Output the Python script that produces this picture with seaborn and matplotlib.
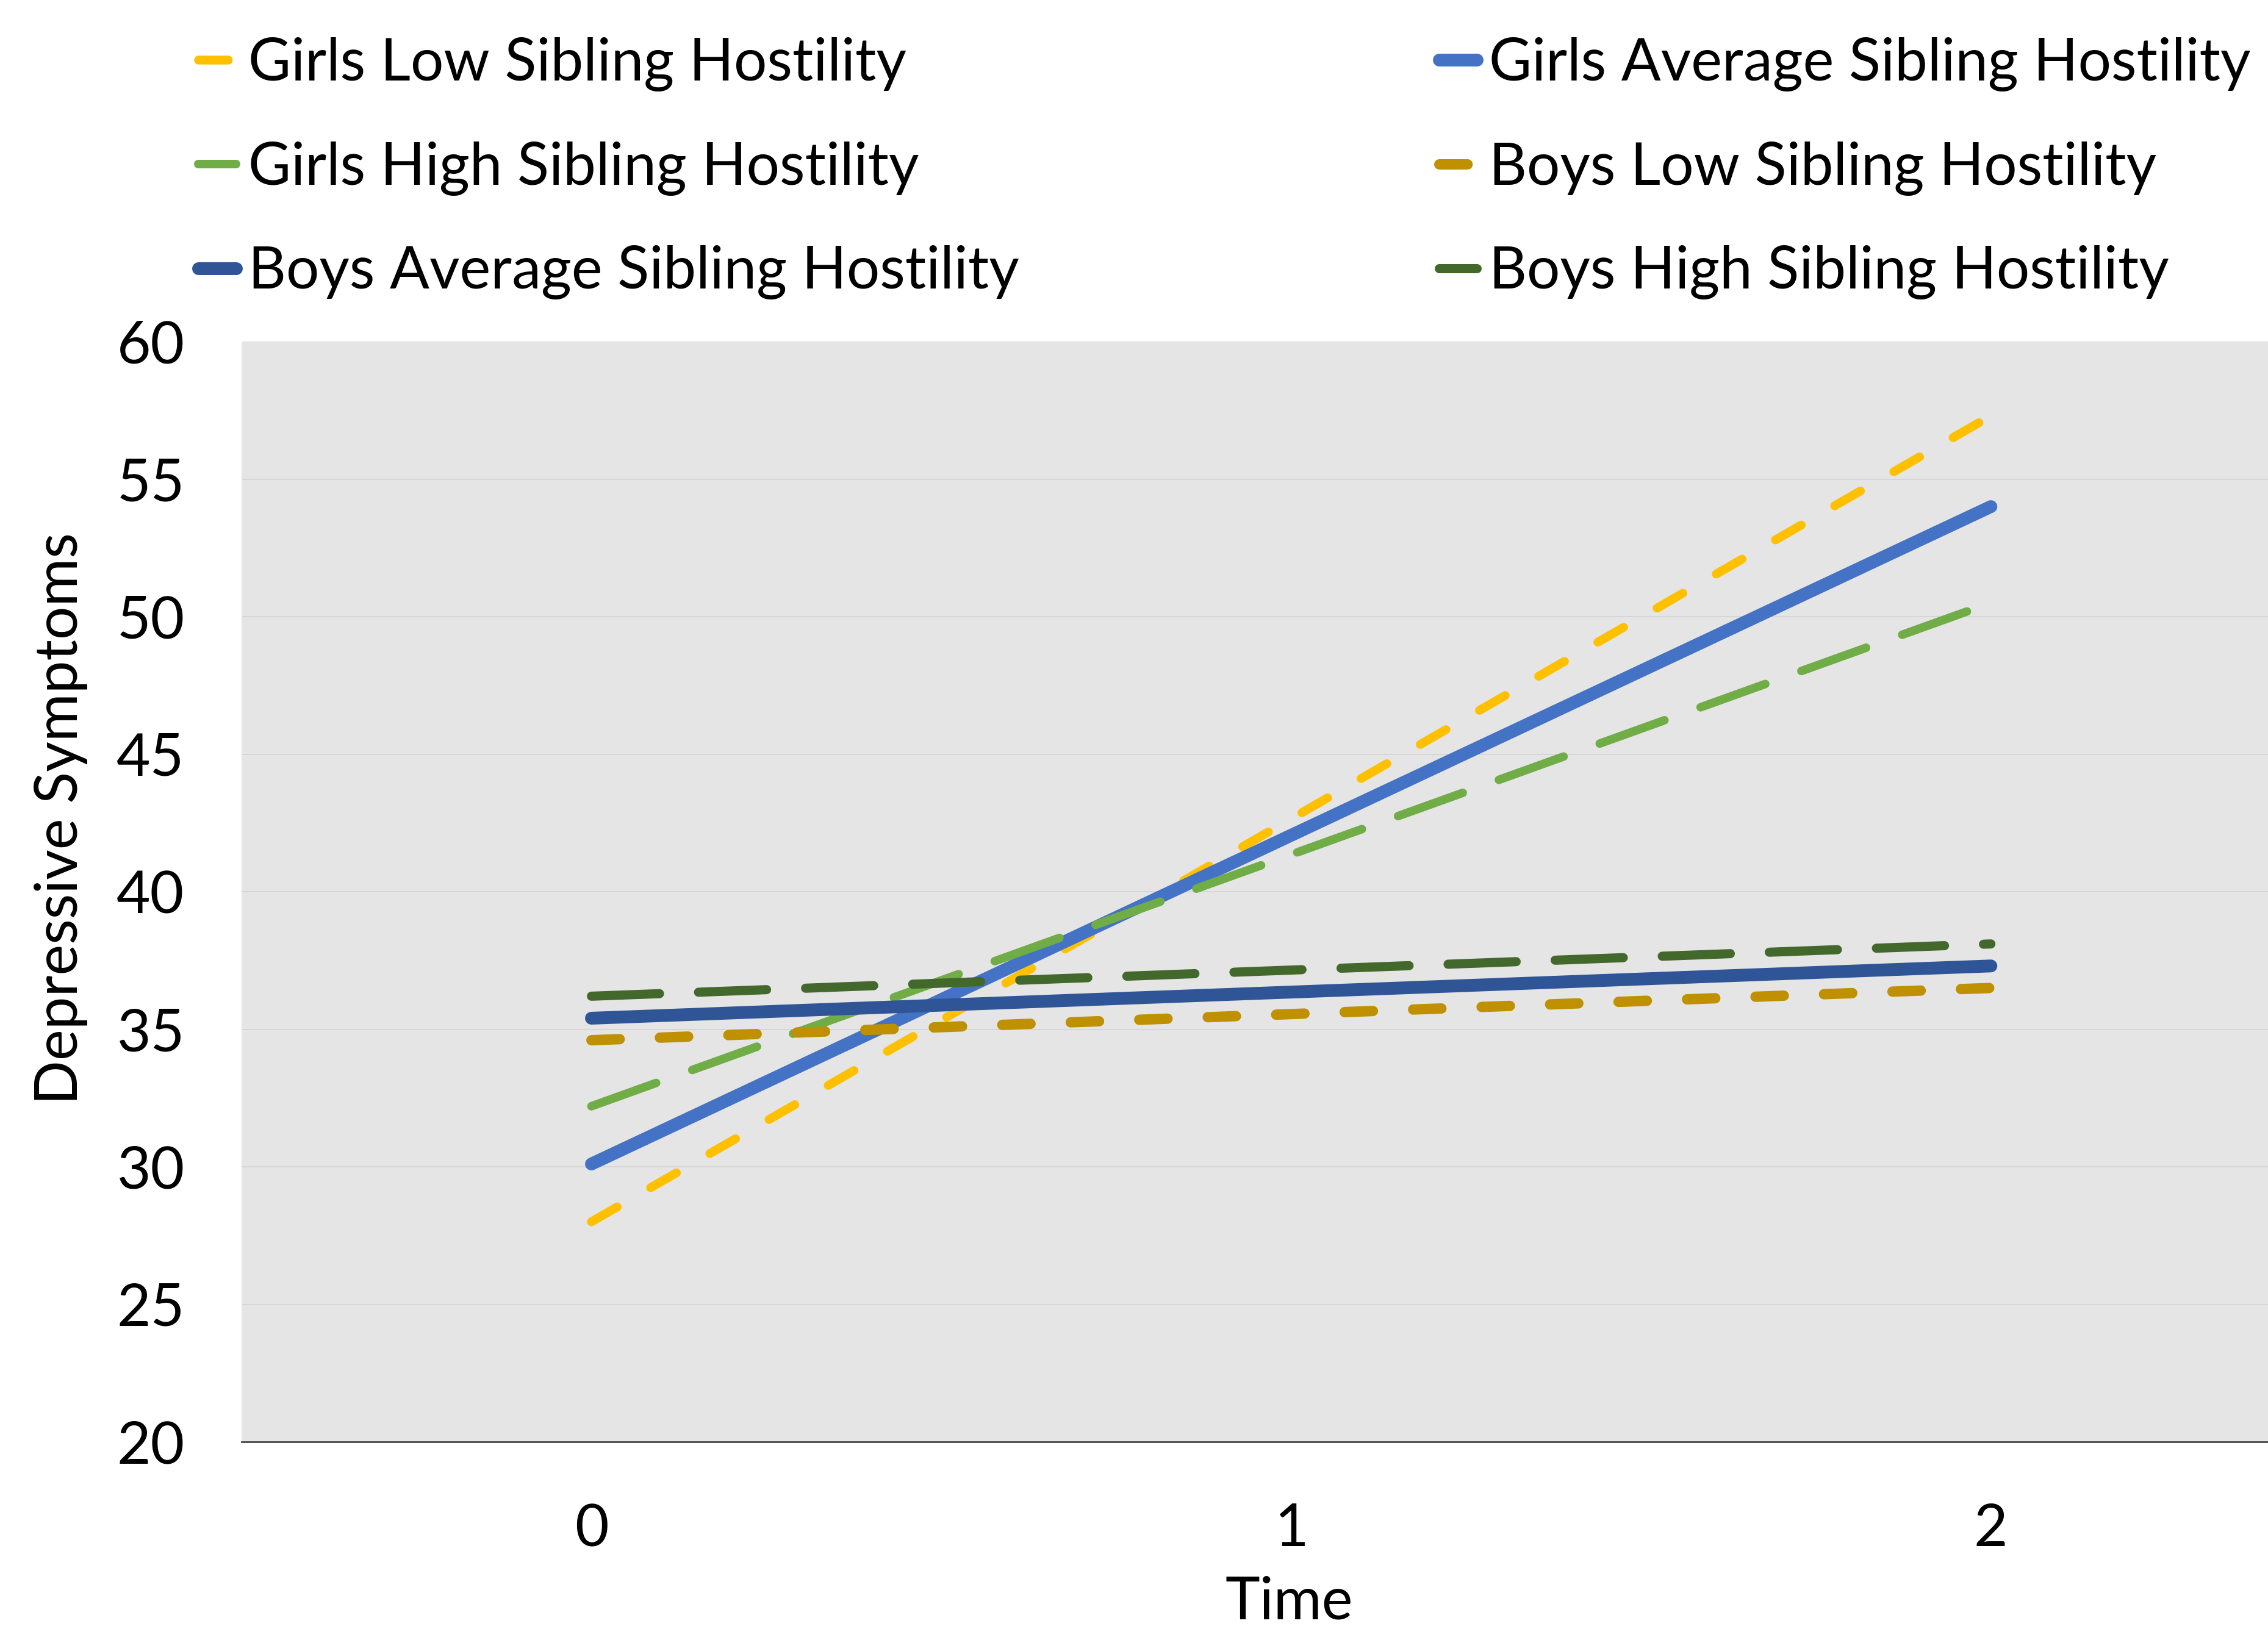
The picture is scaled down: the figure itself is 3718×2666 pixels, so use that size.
import matplotlib
matplotlib.use("Agg")
import matplotlib.pyplot as plt
from matplotlib.lines import Line2D
import seaborn as sns
import pandas as pd

# ---- data ----
time_points = [0, 1, 2]
girls_low = [28.0, 42.65, 57.3]
girls_avg = [30.1, 42.05, 54.0]
girls_high = [32.2, 41.35, 50.5]
boys_low = [34.6, 35.55, 36.5]
boys_avg = [35.4, 36.35, 37.3]
boys_high = [36.2, 37.15, 38.1]
series_names = ["Girls Low Sibling Hostility", "Girls Average Sibling Hostility",
                "Girls High Sibling Hostility", "Boys Low Sibling Hostility",
                "Boys Average Sibling Hostility", "Boys High Sibling Hostility"]
y_ticks = [20, 25, 30, 35, 40, 45, 50, 55, 60]
x_ticks = [0, 1, 2]

sns.set_theme(style="white")
plt.rcParams['font.family'] = ['Lato', 'DejaVu Sans']
plt.rcParams['lines.scale_dashes'] = False
plt.rcParams['text.color'] = 'black'
plt.rcParams['axes.labelcolor'] = 'black'

FS = 28.8
DPI = 240
fig = plt.figure(figsize=(3718 / DPI, 2666 / DPI), dpi=DPI)
ax = fig.add_axes([396 / 3718, 1 - 2364 / 2666, 1 - 396 / 3718, (2364 - 560) / 2666])
ax.set_facecolor('#E5E5E5')

values = [girls_low, girls_avg, girls_high, boys_low, boys_avg, boys_high]
colors = ['#FFC000', '#4472C4', '#70AD47', '#BF9000', '#2F5597', '#43682B']
widths = [4.35, 6.3, 4.2, 5.1, 6.3, 4.5]
styles = [(0, (14.6, 19.0)), '-', (0, (33.8, 18.9)), (0, (13.9, 19.8)), '-', (0, (33.5, 19.2))]

df = pd.DataFrame({
    'Time': time_points * len(series_names),
    'Depressive Symptoms': sum(values, []),
    'Series': [n for n in series_names for _ in time_points],
})

handles = {}
for name, col, lw, ls in zip(series_names, colors, widths, styles):
    sub = df[df['Series'] == name]
    sns.lineplot(data=sub, x='Time', y='Depressive Symptoms', ax=ax, color=col,
                 linewidth=lw, linestyle=ls, legend=False)
    ln = ax.lines[-1]
    ln.set_dash_capstyle('round')
    ln.set_solid_capstyle('round')
    h = Line2D([], [], color=col, linewidth=lw, linestyle=ls,
               dash_capstyle='round', solid_capstyle='round')
    handles[name] = h

ax.set_xlim(-0.5, 2.396)
ax.set_ylim(20, 60)
ax.set_yticks(y_ticks)
ax.set_xticks(x_ticks)
ax.set_xticklabels([str(t) for t in x_ticks])
ax.set_yticklabels([str(t) for t in y_ticks])
ax.tick_params(axis='both', length=0, labelsize=FS, colors='black')
ax.tick_params(axis='y', pad=28)
ax.tick_params(axis='x', pad=30)
ax.grid(axis='y', color='#D6D6D6', linewidth=0.6)
ax.set_axisbelow(True)
for s in ['top', 'left', 'right']:
    ax.spines[s].set_visible(False)
ax.spines['bottom'].set_color('#404040')
ax.spines['bottom'].set_linewidth(0.8)

ax.set_xlabel('Time', fontsize=FS, va='center')
ax.set_ylabel('Depressive Symptoms', fontsize=FS, va='center', ha='center')
ax.xaxis.set_label_coords(0.5169, -0.1462)
ax.yaxis.set_label_coords(-0.0891, 0.5665)

leg_kw = dict(frameon=False, fontsize=FS, handlelength=0.65, handletextpad=0.2,
              labelspacing=0.85, borderpad=0, borderaxespad=0, loc='upper left')
col1 = [series_names[0], series_names[2], series_names[4]]
col2 = [series_names[1], series_names[3], series_names[5]]
l1 = fig.legend([handles[n] for n in col1], col1, bbox_to_anchor=(325 / 3718, 1 - 61 / 2666), **leg_kw)
l2 = fig.legend([handles[n] for n in col2], col2, bbox_to_anchor=(2359 / 3718, 1 - 61 / 2666), **leg_kw)

fig.savefig('out.png', dpi=DPI)
